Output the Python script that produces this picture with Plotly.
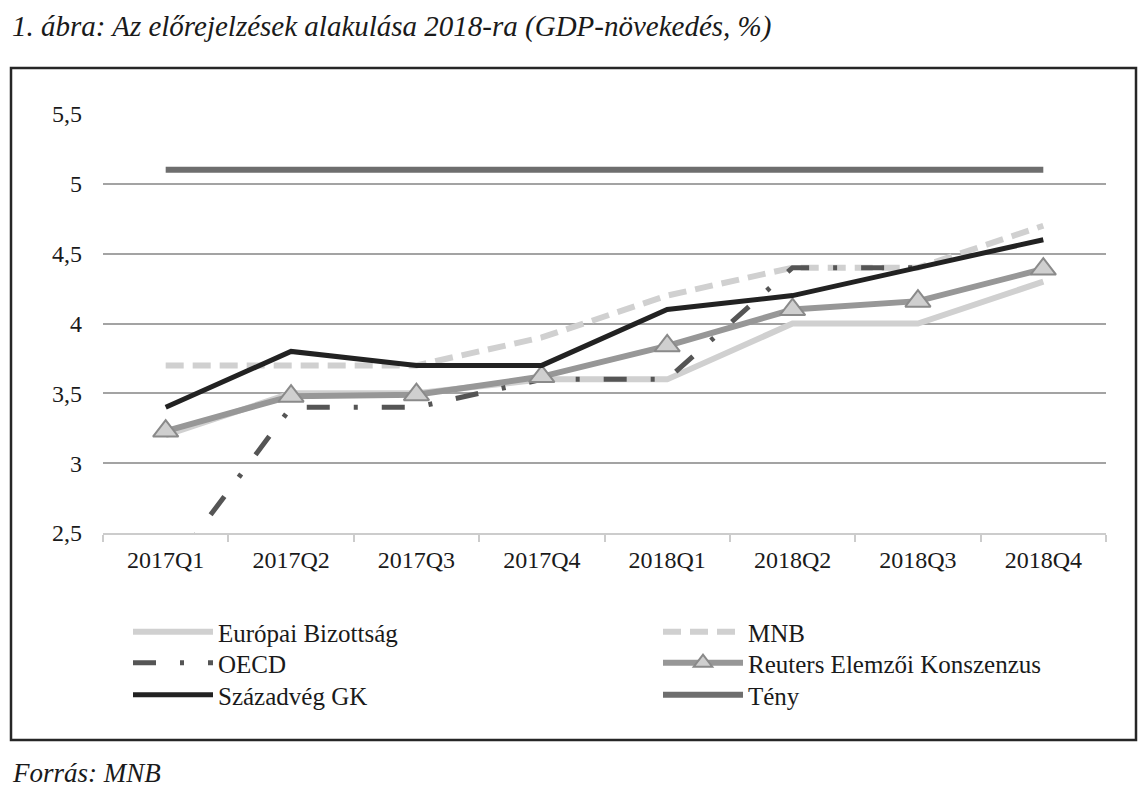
import plotly.graph_objects as go

categories = ["2017Q1", "2017Q2", "2017Q3", "2017Q4", "2018Q1", "2018Q2", "2018Q3", "2018Q4"]
europai_bizottsag = [3.2, 3.5, 3.5, 3.6, 3.6, 4.0, 4.0, 4.3]
mnb = [3.7, 3.7, 3.7, 3.9, 4.2, 4.4, 4.4, 4.7]
oecd = [2.2, 3.4, 3.4, 3.6, 3.6, 4.4, 4.4, None]
reuters = [3.23, 3.48, 3.49, 3.62, 3.84, 4.10, 4.16, 4.39]
szazadveg = [3.4, 3.8, 3.7, 3.7, 4.1, 4.2, 4.4, 4.6]
teny = [5.1, 5.1, 5.1, 5.1, 5.1, 5.1, 5.1, 5.1]
y_ticks = [2.5, 3, 3.5, 4, 4.5, 5, 5.5]

SERIF = "'Liberation Serif', 'Times New Roman', 'DejaVu Serif', serif"

fig = go.Figure()
fig.add_trace(go.Scatter(x=categories, y=europai_bizottsag, name="Európai Bizottság", mode="lines",
                         line=dict(color="#d0d0d0", width=6), legend="legend"))
fig.add_trace(go.Scatter(x=categories, y=mnb, name="MNB", mode="lines",
                         line=dict(color="#d0d0d0", width=6, dash="18px,9px"), legend="legend2"))
fig.add_trace(go.Scatter(x=categories, y=oecd, name="OECD", mode="lines",
                         line=dict(color="#555555", width=5, dash="23px,24px,4px,24px"), legend="legend3"))
fig.add_trace(go.Scatter(x=categories, y=reuters, name="Reuters Elemzői Konszenzus", mode="lines+markers",
                         line=dict(color="#979797", width=6),
                         marker=dict(symbol="triangle-up", size=22, color="#cfcfcf",
                                     line=dict(color="#8a8a8a", width=2)), legend="legend4"))
fig.add_trace(go.Scatter(x=categories, y=szazadveg, name="Századvég GK", mode="lines",
                         line=dict(color="#222222", width=5), legend="legend5"))
fig.add_trace(go.Scatter(x=categories, y=teny, name="Tény", mode="lines",
                         line=dict(color="#6e6e6e", width=6), legend="legend6"))

L, R, T, B = 103, 42, 114, 268
W, H = 1148, 801
pw, ph = W - L - R, H - T - B

def px_x(p):
    return (p - L) / pw

def px_y(p):
    return (H - B - p) / ph

legend_common = dict(orientation="v", font=dict(family=SERIF, size=25, color="#1a1a1a"),
                     itemwidth=80, bgcolor="rgba(0,0,0,0)", yanchor="middle", xanchor="left",
                     tracegroupgap=0, itemclick=False)

rows = [632, 663, 695]
col_x = [128, 658]

fig.update_layout(
    width=W, height=H,
    margin=dict(l=L, r=R, t=T, b=B),
    paper_bgcolor="white", plot_bgcolor="white",
    separators=", ",
    font=dict(family=SERIF, size=24, color="#1a1a1a"),
    legend=dict(x=px_x(col_x[0]), y=px_y(rows[0]), **legend_common),
    legend2=dict(x=px_x(col_x[1]), y=px_y(rows[0]), **legend_common),
    legend3=dict(x=px_x(col_x[0]), y=px_y(rows[1]), **legend_common),
    legend4=dict(x=px_x(col_x[1]), y=px_y(rows[1]), **legend_common),
    legend5=dict(x=px_x(col_x[0]), y=px_y(rows[2]), **legend_common),
    legend6=dict(x=px_x(col_x[1]), y=px_y(rows[2]), **legend_common),
    xaxis=dict(type="category", categoryorder="array", categoryarray=categories,
               range=[-0.5, 7.5], showgrid=False, showline=True, linecolor="#cccccc", linewidth=2,
               ticks="outside", tickson="boundaries", ticklen=7, tickcolor="#cccccc", tickwidth=2,
               ticklabelstandoff=4,
               tickfont=dict(family=SERIF, size=24, color="#1a1a1a")),
    yaxis=dict(range=[2.5, 5.5], tickvals=y_ticks, showgrid=True, gridcolor="#a3a3a3", gridwidth=1.5,
               zeroline=False, showline=False, ticks="", ticklabelstandoff=20,
               tickfont=dict(family=SERIF, size=24, color="#1a1a1a")),
    showlegend=True,
)

fig.add_shape(type="rect", xref="paper", yref="paper",
              x0=px_x(11), x1=px_x(1136), y0=px_y(740), y1=px_y(68),
              line=dict(color="#262626", width=2.5), fillcolor="rgba(0,0,0,0)", layer="below")

fig.add_annotation(text="1. ábra: Az előrejelzések alakulása 2018-ra (GDP-növekedés, %)",
                   xref="paper", yref="paper", x=px_x(10), y=px_y(26), xanchor="left", yanchor="middle",
                   showarrow=False, font=dict(family=SERIF, size=29, color="#1a1a1a", style="italic"))
fig.add_annotation(text="Forrás: MNB",
                   xref="paper", yref="paper", x=px_x(10), y=px_y(773), xanchor="left", yanchor="middle",
                   showarrow=False, font=dict(family=SERIF, size=27, color="#1a1a1a", style="italic"))

fig.write_html("out.html")
